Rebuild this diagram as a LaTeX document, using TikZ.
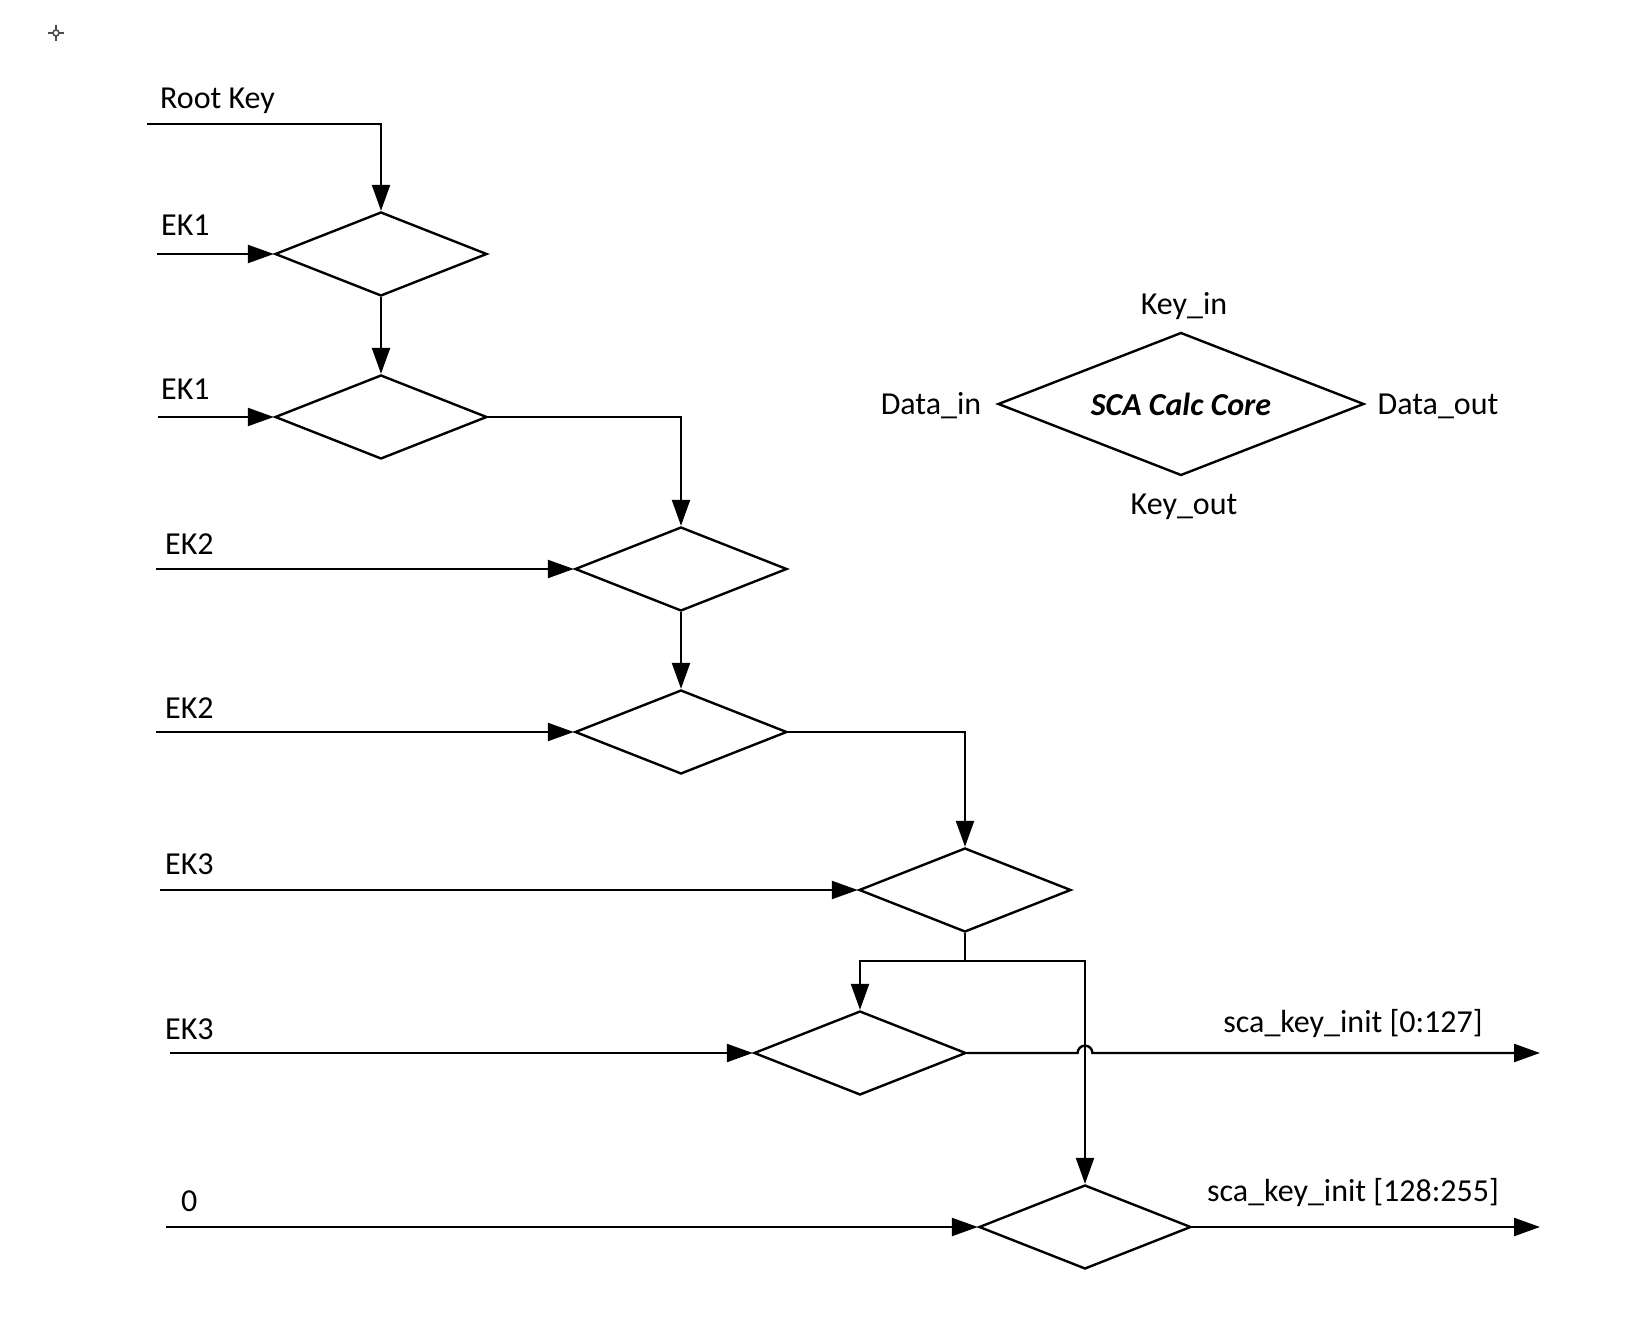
\documentclass[tikz,border=0pt]{standalone}
\usepackage{fontspec}
\setmainfont{Carlito}
\usetikzlibrary{shapes.geometric,arrows.meta}

\begin{document}
\begin{tikzpicture}[x=0.5pt,y=-0.5pt,line width=1.2pt,
	xorbox/.style={draw,diamond,inner sep=0pt,aspect=2.5,minimum width=106pt,minimum height=42pt},
	arr/.style={-{Triangle[length=13pt,width=9pt]}},
	lbl/.style={inner sep=0pt,font=\fontsize{16}{19}\selectfont}]
	\useasboundingbox (0,0) rectangle (1650,1336);

	% little cross mark
	\draw[gray!60!black,line width=0.8pt] (48,33) -- (64,33) (56,25) -- (56,41);
	\draw[gray!60!black,line width=0.8pt,fill=white] (56,33) circle (1.5pt);

	% chain of cores
	\node[xorbox] (d1) at (381,254) {};
	\node[xorbox] (d2) at (381,417) {};
	\node[xorbox] (d3) at (681,569) {};
	\node[xorbox] (d4) at (681,732) {};
	\node[xorbox] (d5) at (965,890) {};
	\node[xorbox] (d6) at (860,1053) {};
	\node[xorbox] (d7) at (1085,1227) {};

	% legend
	\node[draw,diamond,inner sep=0pt,aspect=2.56,minimum width=183pt,minimum height=71.5pt,
		font=\fontsize{16}{19}\selectfont\bfseries\itshape] (core) at (1181,404) {SCA Calc Core};
	\node[lbl] (keyin) at (1184,306) {Key\_in};
	\node[lbl] (keyout) at (1184,507) {Key\_out};
	\node[lbl] (datain) at (931,406) {Data\_in};
	\node[lbl] (dataout) at (1438,406) {Data\_out};

	% inputs
	\coordinate (rk) at (147,124);
	\coordinate (in1) at (157,254);
	\coordinate (in2) at (158,417);
	\coordinate (in3) at (156,569);
	\coordinate (in4) at (156,732);
	\coordinate (in5) at (160,890);
	\coordinate (in6) at (170,1053);
	\coordinate (in7) at (166,1227);
	\node[lbl,anchor=west] (lrk) at (159,101) {Root Key};
	\node[lbl,anchor=west] (l1) at (160,225) {EK1};
	\node[lbl,anchor=west] (l2) at (160,389) {EK1};
	\node[lbl,anchor=west] (l3) at (164,544) {EK2};
	\node[lbl,anchor=west] (l4) at (164,708) {EK2};
	\node[lbl,anchor=west] (l5) at (164,864) {EK3};
	\node[lbl,anchor=west] (l6) at (164,1029) {EK3};
	\node[lbl,anchor=west] (l7) at (180,1201) {0};

	\draw[arr] (rk) -| (d1.north);
	\draw[arr] (in1) -- (d1.west);
	\draw[arr] (in2) -- (d2.west);
	\draw[arr] (in3) -- (d3.west);
	\draw[arr] (in4) -- (d4.west);
	\draw[arr] (in5) -- (d5.west);
	\draw[arr] (in6) -- (d6.west);
	\draw[arr] (in7) -- (d7.west);

	% links between cores
	\draw[arr] (d1.south) -- (d2.north);
	\draw[arr] (d2.east) -| (d3.north);
	\draw[arr] (d3.south) -- (d4.north);
	\draw[arr] (d4.east) -| (d5.north);
	\coordinate (split) at (965,961);
	\draw (d5.south) -- (split);
	\draw[arr] (split) -| (d6.north);
	\draw[arr] (split) -| (d7.north);

	% outputs
	\coordinate (out1) at (1540,1053);
	\coordinate (out2) at (1540,1227);
	\draw[arr] (d6.east) -- ([xshift=-3.7pt]d7.north |- d6.east)
		arc[start angle=180,end angle=0,radius=3.7pt] -- (out1);
	\draw[arr] (d7.east) -- (out2);
	\node[lbl] (o1) at (1353,1024) {sca\_key\_init [0:127]};
	\node[lbl] (o2) at (1353,1193) {sca\_key\_init [128:255]};
\end{tikzpicture}
\end{document}
